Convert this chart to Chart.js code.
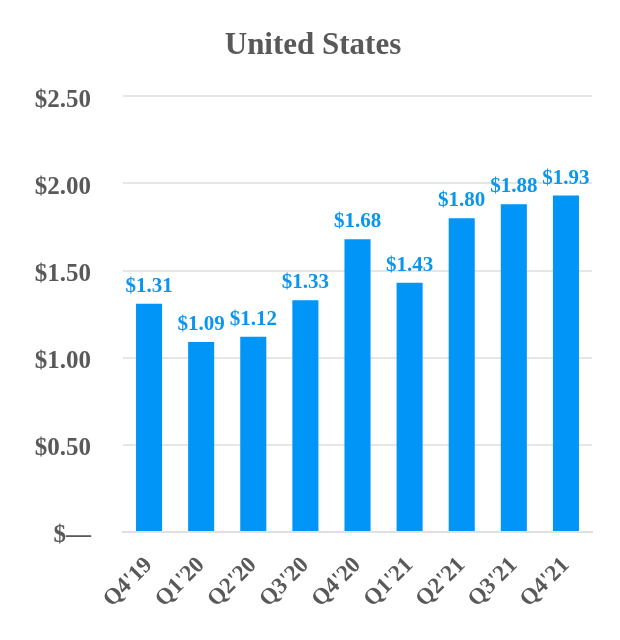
<!DOCTYPE html>
<html><head><meta charset="utf-8">
<script src="https://cdn.jsdelivr.net/npm/chart.js@4/dist/chart.umd.min.js"></script>
<style>html,body{margin:0;padding:0;background:#fff}#wrap{width:620px;height:640px}</style>
</head><body><div id="wrap"><canvas id="c" width="620" height="640"></canvas></div>
<script>
const categories = ["Q4'19","Q1'20","Q2'20","Q3'20","Q4'20","Q1'21","Q2'21","Q3'21","Q4'21"];
const values = [1.31,1.09,1.12,1.33,1.68,1.43,1.80,1.88,1.93];
const yTicks = [0,0.5,1.0,1.5,2.0,2.5];
const title = "United States";

const barColor = '#0095F6';
const labelColor = '#0A96EE';
const gray = '#595959';
const serif = "'Liberation Serif','Times New Roman',serif";

const labelsPlugin = {
  id: 'valLabels',
  afterDatasetsDraw(chart) {
    const ctx = chart.ctx;
    const meta = chart.getDatasetMeta(0);
    ctx.save();
    ctx.font = "bold 21px " + serif;
    ctx.fillStyle = labelColor;
    ctx.textAlign = 'center';
    ctx.textBaseline = 'alphabetic';
    meta.data.forEach((bar, i) => {
      ctx.fillText('$' + values[i].toFixed(2), bar.x, bar.y - 12);
    });
    ctx.restore();
  }
};

new Chart(document.getElementById('c'), {
  type: 'bar',
  data: { labels: categories, datasets: [{ data: values, backgroundColor: barColor, barPercentage: 0.5, categoryPercentage: 1.0 }] },
  options: {
    responsive: false, animation: false,
    layout: { padding: { left: 34, right: 28, top: 0, bottom: 0 } },
    plugins: {
      legend: { display: false }, tooltip: { enabled: false },
      title: { display: true, text: title, color: gray, font: { family: serif, size: 31, weight: 'bold' }, padding: { top: 27, bottom: 32 } }
    },
    scales: {
      y: {
        min: 0, max: 2.5,
        afterBuildTicks(axis) { axis.ticks = yTicks.map(v => ({ value: v })); },
        afterFit(axis) { axis.width = 89; },
        ticks: { color: gray, font: { family: serif, size: 25, weight: 'bold' }, padding: 32, labelOffset: 4,
          callback: v => v === 0 ? '$\u2014' : '$' + Number(v).toFixed(2) },
        grid: { color: '#e6e6e6', lineWidth: 2, drawTicks: false },
        border: { display: false }
      },
      x: {
        afterFit(axis) { axis.height = 108; },
        ticks: { color: gray, font: { family: serif, size: 23, weight: 'bold' }, minRotation: 45, maxRotation: 45, padding: 20 },
        grid: { display: false, drawTicks: false },
        border: { color: '#e0e0e0', width: 2 }
      }
    }
  },
  plugins: [labelsPlugin]
});
</script></body></html>
